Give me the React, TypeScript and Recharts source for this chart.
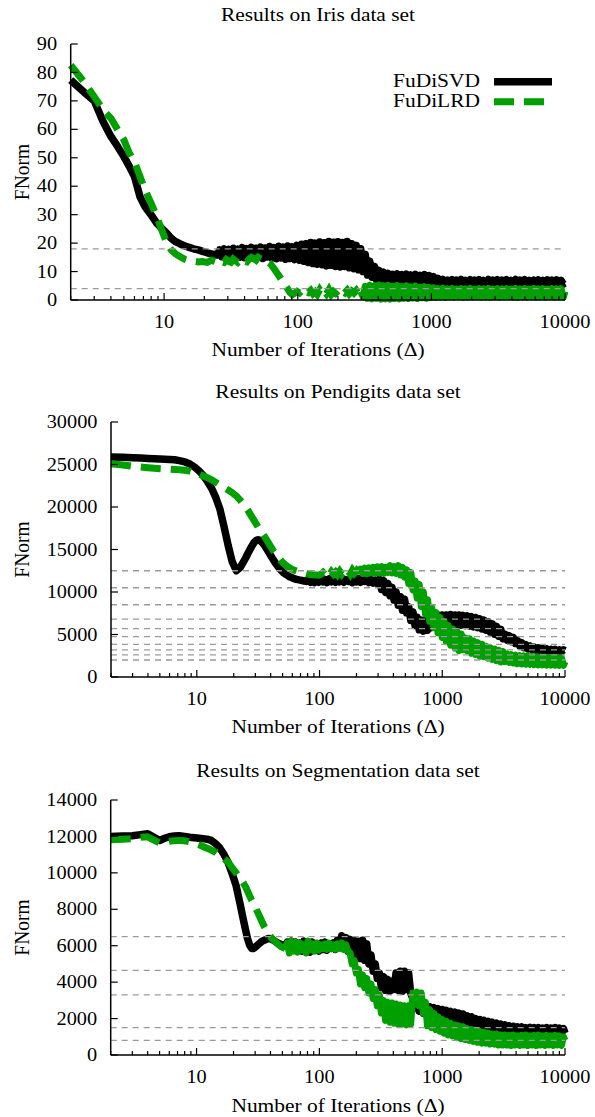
import React from 'react';
import { ComposedChart, Line, XAxis, YAxis, ReferenceLine } from 'recharts';

// shared x positions (number of iterations), log spaced, denser where the runs get noisy
const iterations = [
  2, 2.5, 3, 3.5, 4, 4.5, 5, 5.5, 6, 6.6,
  7.2, 8, 8.8, 9.6, 10.5, 11.3, 12.2, 13.2, 14.3, 15.4,
  16.6, 18, 19.4, 21, 22.6, 24, 25, 26, 27, 28.1,
  29.2, 30.4, 31.6, 32.9, 34.2, 35.6, 37, 38.5, 40, 41.6,
  43.3, 45, 46.8, 48.7, 50.6, 52.7, 54.8, 57, 59.2, 61.6,
  64.1, 66.6, 69.3, 72.1, 75, 78, 81.1, 84.3, 87.7, 91.2,
  94.9, 98.7, 103, 107, 111, 115, 120, 125, 130, 135,
  140, 146, 152, 158, 164, 171, 178, 185, 192, 200,
  208, 216, 225, 234, 243, 253, 263, 274, 285, 296,
  308, 320, 333, 346, 360, 375, 390, 405, 421, 438,
  456, 474, 493, 513, 533, 554, 577, 600, 624, 649,
  675, 702, 730, 759, 789, 821, 854, 888, 924, 961,
  1000, 1040, 1080, 1120, 1170, 1220, 1270, 1320, 1370, 1430,
  1480, 1540, 1600, 1670, 1730, 1800, 1870, 1950, 2030, 2110,
  2190, 2280, 2370, 2460, 2560, 2670, 2770, 2880, 3000, 3120,
  3240, 3370, 3510, 3650, 3790, 3940, 4100, 4270, 4440, 4610,
  4800, 4990, 5190, 5400, 5610, 5840, 6070, 6310, 6560, 6830,
  7100, 7380, 7680, 7990, 8310, 8640, 8980, 9340, 9710, 10000,
];

const xTicks = [
  2, 3, 4, 5, 6, 7, 8, 9, 10,
  20, 30, 40, 50, 60, 70, 80, 90, 100,
  200, 300, 400, 500, 600, 700, 800, 900, 1000,
  2000, 3000, 4000, 5000, 6000, 7000, 8000, 9000, 10000,
];
const xLabelled = [10, 100, 1000, 10000];

// Iris
const irisSvd = [
  77.3, 73.2, 70, 62.7, 57.5, 53.9, 50.4, 46.9, 43.4, 36.3,
  32.8, 29.9, 27, 25.2, 23.4, 21.7, 20.5, 19.7, 19, 18.5,
  18, 17.6, 17.1, 16.6, 16.2, 16.0, 15.8, 17.6, 15.2, 18.0,
  15.0, 17.8, 15.3, 18.2, 14.8, 17.9, 15.1, 18.4, 14.9, 18.1,
  15.2, 18.5, 14.7, 18.2, 15.0, 18.6, 14.6, 18.3, 15.1, 18.8,
  14.7, 18.4, 14.5, 18.9, 14.8, 18.6, 14.3, 19.0, 14.6, 18.7,
  14.2, 19.2, 14.0, 19.6, 13.6, 19.8, 13.2, 20.2, 12.8, 20.0,
  12.6, 20.4, 12.4, 20.1, 12.0, 20.6, 12.2, 20.3, 11.8, 20.5,
  11.6, 20.2, 11.8, 20.6, 11.3, 19.8, 11.0, 19.2, 10.6, 18.0,
  10.0, 16.0, 8.8, 13.6, 8.0, 11.8, 7.0, 10.4, 6.6, 9.8,
  6.5, 9.4, 6.3, 9.0, 6.6, 9.2, 6.4, 8.9, 6.5, 9.1,
  6.3, 8.8, 6.5, 9.0, 6.2, 8.7, 6.4, 8.9, 6.1, 8.6,
  6.3, 8.2, 6.0, 7.6, 5.7, 7.2, 5.6, 7.0, 5.7, 7.1,
  5.6, 7.0, 5.7, 7.2, 5.6, 6.9, 5.7, 7.1, 5.6, 7.0,
  5.7, 7.1, 5.6, 6.9, 5.7, 7.2, 5.6, 7.0, 5.7, 7.1,
  5.6, 7.0, 5.7, 7.1, 5.6, 6.9, 5.7, 7.2, 5.6, 7.0,
  5.7, 7.1, 5.6, 6.9, 5.7, 7.0, 5.6, 7.1, 5.7, 6.9,
  5.6, 7.1, 5.7, 7.0, 5.6, 7.1, 5.7, 6.9, 5.6, 5.9,
];
const irisLrd = [
  82.6, 76.8, 71.5, 66.8, 63.9, 59.8, 56.3, 51.6, 48.6, 43.4,
  38.7, 34, 29.3, 24.6, 19.9, 17.6, 16.2, 15.2, 14.3, 13.8,
  13.6, 13.4, 13.5, 13.2, 14.0, 13.6, 13.3, 14.1, 13.5, 13.2,
  14.2, 13.6, 13.3, 14.4, 13.8, 13.2, 14.0, 14.6, 13.6, 13.4,
  14.4, 15.0, 14.6, 14.0, 15.0, 14.5, 14.0, 14.3, 13.6, 13.0,
  12.0, 11.0, 9.8, 8.6, 7.4, 6.2, 5.0, 3.8, 2.6, 1.9,
  2.4, 3.0, 2.5, 3.3, 2.2, 3.0, 2.6, 3.4, 2.2, 2.9,
  2.0, 3.6, 2.4, 3.2, 2.2, 3.6, 2.0, 3.0, 2.4, 3.3,
  2.1, 3.0, 2.5, 3.4, 2.2, 3.1, 2.4, 3.3, 2.0, 3.0,
  1.2, 4.8, 0.6, 5.2, 0.4, 5.0, 0.6, 5.3, 0.3, 5.0,
  0.4, 5.2, 0.3, 4.8, 0.5, 5.1, 0.4, 4.7, 0.6, 5.0,
  0.5, 4.6, 0.7, 4.9, 0.5, 4.5, 0.8, 4.7, 0.6, 4.4,
  1.0, 4.3, 0.9, 4.0, 1.1, 4.2, 0.9, 3.9, 1.2, 4.1,
  1.0, 3.8, 1.2, 4.0, 0.9, 3.9, 1.1, 4.1, 1.0, 3.8,
  1.2, 4.0, 1.0, 3.9, 1.1, 4.1, 0.9, 3.8, 1.2, 4.0,
  1.0, 3.9, 1.1, 4.0, 1.2, 3.8, 1.0, 4.1, 0.9, 3.9,
  1.1, 4.0, 1.0, 3.8, 1.2, 4.1, 1.0, 3.9, 1.1, 4.0,
  1.0, 3.8, 1.2, 4.0, 1.0, 3.9, 1.1, 4.0, 1.0, 3.0,
];
const irisTicks = [0, 10, 20, 30, 40, 50, 60, 70, 80, 90];
const irisGuides = [18, 4];

// Pendigits
const pendSvd = [
  25880, 25850, 25800, 25760, 25720, 25690, 25660, 25630, 25600, 25560,
  25450, 25300, 25050, 24700, 24200, 23700, 23000, 22200, 21100, 19800,
  17800, 15500, 13600, 12500, 12900, 13550, 14000, 14500, 14950, 15400,
  15800, 16050, 16150, 16050, 15800, 15500, 15100, 14700, 14300, 13900,
  13500, 13150, 12850, 12550, 12300, 12100, 11950, 11800, 11700, 11600,
  11500, 11450, 11400, 11350, 11300, 11250, 11450, 11150, 11400, 11100,
  11450, 11150, 11500, 11200, 11450, 11100, 11550, 11200, 11450, 11150,
  11500, 11200, 11600, 11150, 11450, 11250, 11550, 11100, 11500, 11200,
  11600, 11150, 11550, 11250, 11500, 11100, 11450, 11050, 11400, 11000,
  11500, 10300, 11350, 9950, 11000, 9550, 10550, 9050, 10000, 8450,
  9450, 7850, 9150, 7550, 8250, 6650, 7650, 6050, 7050, 5550,
  6700, 5400, 6700, 5500, 7000, 5800, 7200, 6000, 7300, 6050,
  7300, 6100, 7300, 6100, 7350, 6100, 7300, 6100, 7300, 6100,
  7250, 6050, 7200, 6000, 7100, 5900, 7000, 5800, 6850, 5650,
  6700, 5500, 6500, 5300, 6250, 5050, 5950, 4800, 5600, 4500,
  5050, 4350, 4850, 4150, 4650, 3950, 4300, 3650, 4050, 3450,
  3800, 3300, 3650, 3200, 3500, 3150, 3400, 3100, 3350, 3050,
  3300, 3050, 3250, 3000, 3250, 3050, 3200, 3000, 3200, 3100,
];
const pendLrd = [
  25100, 24950, 24800, 24700, 24620, 24560, 24500, 24470, 24440, 24410,
  24380, 24320, 24220, 24080, 23850, 23650, 23450, 23200, 22900, 22600,
  22300, 22000, 21700, 21300, 20800, 20350, 20000, 19650, 19250, 18850,
  18450, 18050, 17650, 17250, 16900, 16550, 16150, 15750, 15350, 14950,
  14600, 14250, 13950, 13650, 13400, 13200, 13000, 12850, 12700, 12600,
  12500, 12420, 12350, 12280, 12220, 12150, 12100, 12050, 12020, 12000,
  12000, 11980, 12100, 12300, 12050, 12350, 12000, 12400, 12100, 12350,
  12050, 12450, 12100, 12400, 12150, 12500, 12100, 12550, 12200, 12500,
  12150, 12700, 12200, 12800, 12150, 12850, 12250, 12900, 12200, 12950,
  12250, 13000, 12200, 12900, 12300, 13100, 12250, 13000, 12200, 13100,
  12000, 12900, 11750, 12600, 11000, 12300, 10250, 11300, 9300, 10900,
  8300, 10000, 7400, 9100, 6550, 8200, 5800, 7600, 5200, 7000,
  4650, 6500, 4150, 6050, 3750, 5650, 3400, 5350, 3100, 5050,
  3200, 4600, 3100, 4500, 2800, 4230, 2650, 4050, 2450, 3850,
  2380, 3600, 2220, 3450, 2070, 3300, 1930, 3150, 1770, 3000,
  1820, 2730, 1720, 2630, 1640, 2570, 1570, 2510, 1530, 2480,
  1500, 2450, 1480, 2420, 1460, 2380, 1430, 2350, 1420, 2330,
  1400, 2320, 1390, 2300, 1380, 2290, 1370, 2280, 1360, 1800,
];
const pendTicks = [0, 5000, 10000, 15000, 20000, 25000, 30000];
const pendGuides = [12500, 10500, 8500, 6800, 5700, 4750, 3850, 3200, 2600, 2000];

// Segmentation
const segSvd = [
  12000, 12020, 12040, 12100, 12150, 11950, 11780, 11900, 11980, 12030,
  12040, 12000, 11960, 11930, 11900, 11880, 11850, 11780, 11600, 11380,
  11050, 10600, 10000, 9300, 8300, 7450, 6900, 6400, 6050, 5850,
  5850, 5950, 6050, 6150, 6250, 6300, 6350, 6400, 6380, 6330,
  6250, 6180, 6120, 6080, 6050, 6000, 6200, 5850, 6250, 5800,
  6200, 5750, 6150, 5700, 6250, 5800, 6100, 5650, 6200, 5750,
  6100, 5700, 6150, 5800, 6200, 5750, 6100, 5850, 6150, 5800,
  6300, 6000, 6550, 6150, 6450, 5700, 6350, 5500, 6300, 5400,
  6250, 5300, 6300, 5200, 6100, 5000, 5500, 4600, 5000, 4200,
  4500, 3700, 4300, 3550, 4150, 3500, 4050, 3600, 4500, 3550,
  4600, 3500, 4600, 3600, 4500, 3400, 3100, 2600, 2800, 2400,
  2750, 2300, 2700, 2250, 2650, 2200, 2600, 2100, 2550, 2050,
  2500, 2000, 2450, 1950, 2400, 1900, 2350, 1850, 2300, 1800,
  2250, 1750, 2150, 1700, 2100, 1650, 2000, 1600, 1950, 1550,
  1900, 1500, 1850, 1450, 1800, 1400, 1750, 1350, 1700, 1300,
  1650, 1250, 1600, 1200, 1580, 1200, 1550, 1150, 1550, 1150,
  1500, 1150, 1520, 1150, 1500, 1150, 1500, 1120, 1480, 1150,
  1500, 1120, 1480, 1150, 1500, 1120, 1480, 1150, 1450, 1200,
];
const segLrd = [
  11820, 11850, 11880, 11950, 11980, 11800, 11650, 11700, 11740, 11770,
  11780, 11760, 11700, 11630, 11540, 11450, 11350, 11250, 11130, 10950,
  10800, 10600, 10300, 10000, 9700, 9450, 9250, 9000, 8750, 8500,
  8300, 8050, 7800, 7550, 7300, 7050, 6850, 6650, 6500, 6350,
  6250, 6150, 6050, 5950, 5900, 5850, 6150, 5600, 6250, 5700,
  6200, 5650, 6150, 5750, 6050, 5600, 6250, 5800, 6100, 5700,
  6150, 5750, 6050, 5850, 6100, 5800, 6150, 5850, 6050, 5800,
  6100, 5850, 6150, 5800, 6050, 5700, 5600, 5000, 5200, 4500,
  4700, 3900, 4400, 3700, 4200, 3400, 3900, 3100, 3600, 2700,
  3300, 2300, 3000, 1900, 2900, 1800, 2850, 1750, 2800, 1700,
  2750, 1700, 2700, 1650, 2700, 1700, 3400, 2800, 3450, 2700,
  3400, 2300, 2900, 1600, 2500, 1500, 2300, 1400, 2100, 1300,
  1950, 1200, 1850, 1100, 1750, 1050, 1650, 950, 1600, 900,
  1550, 850, 1450, 800, 1400, 750, 1350, 700, 1300, 650,
  1250, 650, 1200, 600, 1150, 600, 1150, 550, 1100, 550,
  1100, 550, 1080, 520, 1100, 550, 1050, 520, 1080, 550,
  1100, 520, 1050, 550, 1080, 520, 1100, 550, 1050, 520,
  1080, 550, 1050, 520, 1080, 550, 1050, 520, 1000, 800,
];
const segTicks = [0, 2000, 4000, 6000, 8000, 10000, 12000, 14000];
const segGuides = [6500, 4650, 3300, 1500, 800];

const FONT = "'Liberation Serif', 'Times New Roman', serif";
const GREEN = '#00a000';
const axisStyle = { stroke: '#000', strokeWidth: 1.5 };

const BottomTick = ({ x, y, payload }: any) => {
  const major = xLabelled.includes(payload.value);
  return (
    <g>
      <line x1={x} x2={x} y1={y} y2={y - (major ? 7 : 4)} stroke="#000" strokeWidth={1.2} />
      {major && (
        <text transform={`translate(${x},${y + 27.5}) scale(1.1,1)`} textAnchor="middle"
          fontFamily={FONT} fontSize={18.5} fill="#000">{payload.value}</text>
      )}
    </g>
  );
};

const TopTick = ({ x, y, payload }: any) => {
  const major = xLabelled.includes(payload.value);
  return <line x1={x} x2={x} y1={y} y2={y + (major ? 7 : 4)} stroke="#000" strokeWidth={1.2} />;
};

const LeftTick = ({ x, y, payload }: any) => (
  <g>
    <line x1={x} x2={x + 7} y1={y} y2={y} stroke="#000" strokeWidth={1.2} />
    <text transform={`translate(${x - 13.5},${y + 6.1}) scale(1.1,1)`} textAnchor="end"
      fontFamily={FONT} fontSize={18.5} fill="#000">{payload.value}</text>
  </g>
);

const RightTick = ({ x, y }: any) => (
  <line x1={x} x2={x - 7} y1={y} y2={y} stroke="#000" strokeWidth={1.2} />
);

interface PanelProps {
  top: number;
  height: number;
  plotTop: number;
  axisHeight: number;
  axisWidth: number;
  yTicks: number[];
  svd: number[];
  lrd: number[];
  split: number;
  guides: number[];
}

const Panel = ({ top, height, plotTop, axisHeight, axisWidth, yTicks, svd, lrd, split, guides }: PanelProps) => {
  const rows = iterations.map((x, i) => ({
    x,
    svd: svd[i],
    lrdDash: i <= split ? lrd[i] : null,
    lrdSolid: i >= split ? lrd[i] : null,
  }));
  const yMax = yTicks[yTicks.length - 1];
  return (
    <div style={{ position: 'absolute', left: 0, top, width: 595, height }}>
      <ComposedChart width={595} height={height} data={rows}
        margin={{ top: plotTop, right: 30, bottom: 0, left: 0 }}>
        <XAxis xAxisId="b" dataKey="x" type="number" scale="log" domain={[2, 10000]}
          ticks={xTicks} interval={0} tick={(p: any) => <BottomTick {...p} />}
          tickSize={0} tickMargin={0} tickLine={false} axisLine={axisStyle} height={axisHeight} />
        <XAxis xAxisId="t" orientation="top" dataKey="x" type="number" scale="log" domain={[2, 10000]}
          ticks={xTicks} interval={0} tick={(p: any) => <TopTick {...p} />}
          tickSize={0} tickMargin={0} tickLine={false} axisLine={axisStyle} height={0} />
        <YAxis yAxisId="l" type="number" domain={[0, yMax]} ticks={yTicks} interval={0}
          tick={(p: any) => <LeftTick {...p} />} tickSize={0} tickMargin={0} tickLine={false}
          axisLine={axisStyle} width={axisWidth} />
        <YAxis yAxisId="r" orientation="right" type="number" domain={[0, yMax]} ticks={yTicks} interval={0}
          tick={(p: any) => <RightTick {...p} />} tickSize={0} tickMargin={0} tickLine={false}
          axisLine={axisStyle} width={0} />
        <Line xAxisId="b" yAxisId="l" dataKey="svd" stroke="#000" strokeWidth={7.5}
          strokeLinejoin="round" dot={false} activeDot={false} isAnimationActive={false} />
        <Line xAxisId="b" yAxisId="l" dataKey="lrdDash" stroke={GREEN} strokeWidth={7}
          strokeDasharray="20 10" dot={false} activeDot={false} isAnimationActive={false} />
        <Line xAxisId="b" yAxisId="l" dataKey="lrdSolid" stroke={GREEN} strokeWidth={7}
          strokeLinejoin="round" dot={false} activeDot={false} isAnimationActive={false} />
        {guides.map((g) => (
          <ReferenceLine key={g} xAxisId="b" yAxisId="l" y={g} stroke="#9a9a9a"
            strokeWidth={1.3} strokeDasharray="6 5" />
        ))}
      </ComposedChart>
    </div>
  );
};

const T = ({ x, y, children, anchor = 'middle' }: any) => (
  <text transform={`translate(${x},${y}) scale(1.1,1)`} textAnchor={anchor}
    fontFamily={FONT} fontSize={19.5} fill="#000">{children}</text>
);

const YLabel = ({ cy }: { cy: number }) => (
  <text transform={`translate(28.5,${cy}) scale(1.1,1) rotate(-90)`} textAnchor="middle"
    fontFamily={FONT} fontSize={19.5} fill="#000">FNorm</text>
);

export default function App() {
  const xLabel = 'Number of Iterations (\u0394)';
  return (
    <div style={{ position: 'absolute', left: 0, top: 0, width: 595, height: 1117, background: '#fff' }}>
      <Panel top={0} height={370} plotTop={44} axisHeight={70} axisWidth={70.7}
        yTicks={irisTicks} svd={irisSvd} lrd={irisLrd} split={89} guides={irisGuides} />
      <Panel top={370} height={380} plotTop={52} axisHeight={73} axisWidth={111}
        yTicks={pendTicks} svd={pendSvd} lrd={pendLrd} split={80} guides={pendGuides} />
      <Panel top={750} height={367} plotTop={50} axisHeight={62} axisWidth={110.7}
        yTicks={segTicks} svd={segSvd} lrd={segLrd} split={45} guides={segGuides} />
      <svg width={595} height={1117} style={{ position: 'absolute', left: 0, top: 0, pointerEvents: 'none' }}>
        <T x={318} y={20.7}>Results on Iris data set</T>
        <T x={318} y={356}>{xLabel}</T>
        <YLabel cy={172} />
        <T x={480} y={87} anchor="end">FuDiSVD</T>
        <T x={480} y={107} anchor="end">FuDiLRD</T>
        <line x1={494} x2={552} y1={81.8} y2={81.8} stroke="#000" strokeWidth={7.5} />
        <line x1={494} x2={552} y1={101.7} y2={101.7} stroke={GREEN} strokeWidth={7} strokeDasharray="20 10" />

        <T x={338} y={398.3}>Results on Pendigits data set</T>
        <T x={338} y={733}>{xLabel}</T>
        <YLabel cy={549.5} />

        <T x={338} y={777}>Results on Segmentation data set</T>
        <T x={338} y={1111.5}>{xLabel}</T>
        <YLabel cy={927.5} />
      </svg>
    </div>
  );
}
